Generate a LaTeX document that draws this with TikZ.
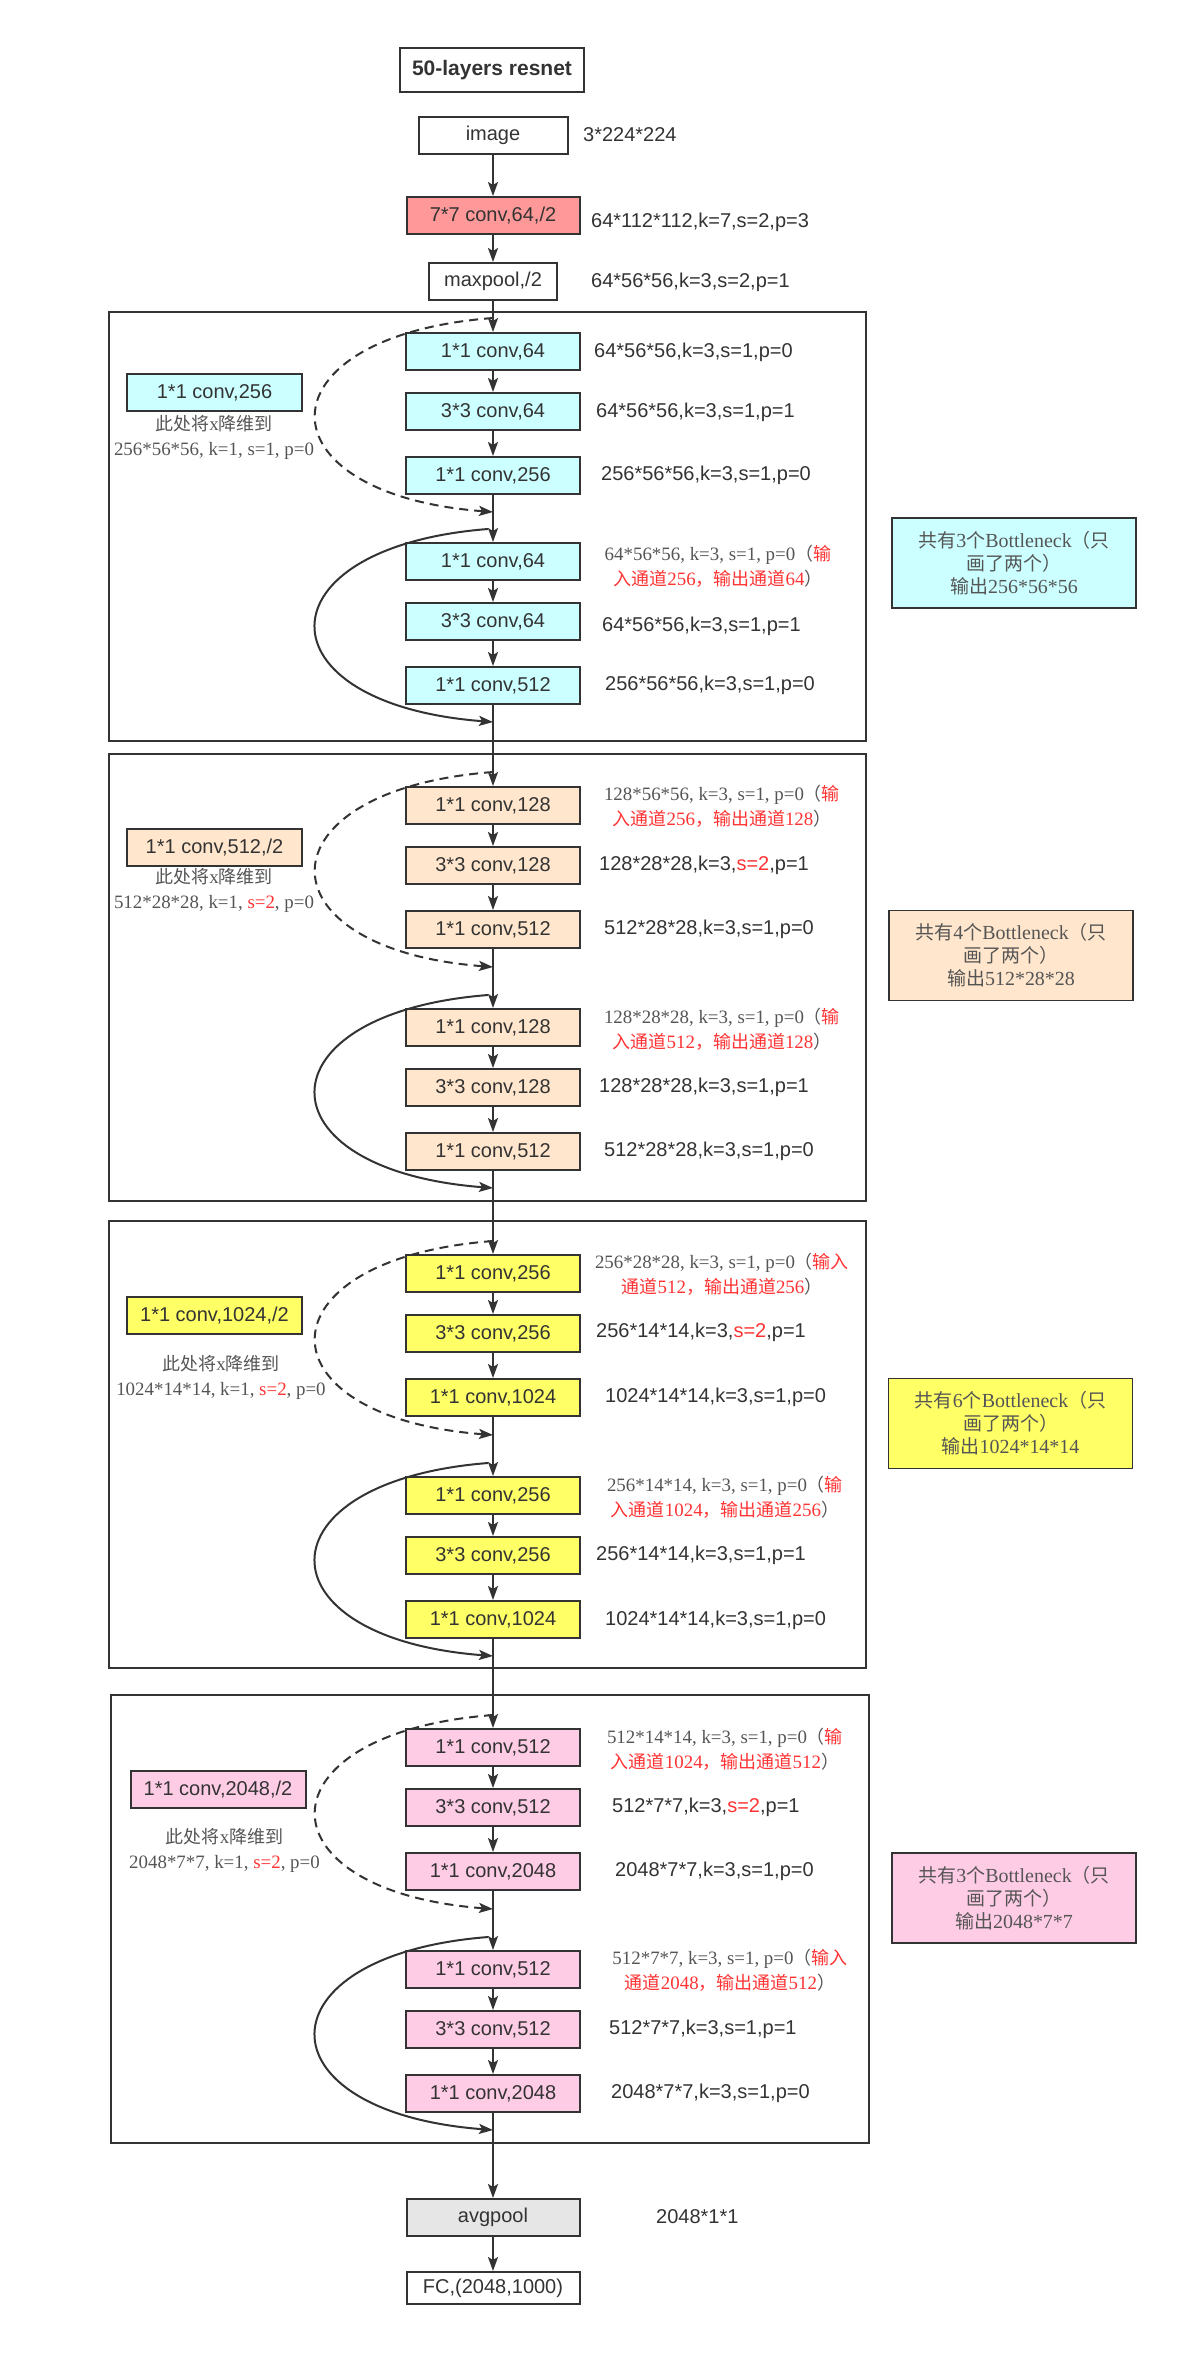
\documentclass[tikz,border=0pt]{standalone}
\usepackage{fontspec}
\setmainfont{Liberation Serif}
\setsansfont{Liberation Sans}
\newfontfamily\cjk{Noto Sans CJK SC}
\newfontfamily\notelatin[Scale=1.05]{Liberation Serif}
\usetikzlibrary{arrows.meta}
\definecolor{linegray}{HTML}{333333}
\definecolor{notegray}{HTML}{555555}
\definecolor{notered}{HTML}{FF3333}
\definecolor{stageA}{HTML}{CCFFFF}
\definecolor{stageB}{HTML}{FFE6CC}
\definecolor{stageC}{HTML}{FFFF66}
\definecolor{stageD}{HTML}{FFCCE6}
\definecolor{convred}{HTML}{FF9999}
\definecolor{poolgray}{HTML}{E6E6E6}
\newcommand\zhtxt[1]{{\cjk #1}}
\newcommand\redtxt[1]{\textcolor{notered}{#1}}
\tikzset{
  convbox/.style={draw=linegray, line width=2pt, minimum width=174pt, minimum height=37pt, inner sep=0pt, text=linegray, font=\sffamily\fontsize{20}{24}\selectfont},
  sidebox/.style={convbox, minimum width=175pt},
  dims/.style={anchor=west, inner sep=0pt, text=linegray, font=\sffamily\fontsize{20}{24}\selectfont},
  note/.style={align=center, inner sep=0pt, text=notegray, font=\notelatin\fontsize{18}{25}\selectfont},
  infobox/.style={draw=linegray, line width=1.5pt, minimum width=244pt, minimum height=90pt, align=center, inner sep=0pt, text=notegray, font=\notelatin\fontsize{19}{23}\selectfont},
  flow/.style={draw=linegray, line width=2pt, -{Stealth[length=14pt,width=10pt,inset=3pt]}},
  stagebox/.style={draw=linegray, line width=2pt},
}
\begin{document}
\begin{tikzpicture}[x=1pt,y=-1pt]
  \useasboundingbox (0,0) rectangle (1196,2366);
  % frames of the four stages
  \draw[stagebox] (109,312) rectangle (866,741);
  \draw[stagebox] (109,754) rectangle (866,1201);
  \draw[stagebox] (109,1221) rectangle (866,1668);
  \draw[stagebox] (111,1695) rectangle (869,2143);

  % head
  \node[convbox, font=\sffamily\bfseries\fontsize{21}{25}\selectfont, minimum width=184pt, minimum height=44pt] (title) at (492,70) {50-layers resnet};
  \node[convbox, minimum width=149pt] (img) at (493,135.5) {image};
  \node[convbox, minimum width=173pt, fill=convred] (conv7) at (493,215.5) {7*7 conv,64,/2};
  \node[convbox, minimum width=128pt] (mpool) at (493,281.5) {maxpool,/2};
  \node[dims] (limg) at (583,135) {3*224*224};
  \node[dims] (lconv7) at (591,222) {64*112*112,k=7,s=2,p=3};
  \node[dims] (lmpool) at (591,282) {64*56*56,k=3,s=2,p=1};

  % stage 1
  \foreach \n/\y/\t in {a1/351.5/{1*1 conv,64}, a2/411.5/{3*3 conv,64}, a3/475.5/{1*1 conv,256}, a4/561.5/{1*1 conv,64}, a5/621.5/{3*3 conv,64}, a6/685.5/{1*1 conv,512}}
    \node[convbox, fill=stageA] (\n) at (493,\y) {\t};
  \foreach \n/\x/\y/\t in {la1/594/352/{64*56*56,k=3,s=1,p=0}, la2/596/412/{64*56*56,k=3,s=1,p=1}, la3/601/475/{256*56*56,k=3,s=1,p=0}, la5/602/626/{64*56*56,k=3,s=1,p=1}, la6/605/685/{256*56*56,k=3,s=1,p=0}}
    \node[dims] (\n) at (\x,\y) {\t};
  \node[note] (la4) at (718,566) {64*56*56, k=3, s=1, p=0\zhtxt{（}\redtxt{\zhtxt{输}}\\\redtxt{\zhtxt{入通道}256\zhtxt{，输出通道}64}\zhtxt{）}};
  \node[sidebox, fill=stageA] (sa) at (214.5,392.5) {1*1 conv,256};
  \node[note] (na) at (214,437) {\zhtxt{此处将}x\zhtxt{降维到}\\256*56*56, k=1, s=1, p=0};
  \node[infobox, fill=stageA] (ia) at (1014,563) {\zhtxt{共有}3\zhtxt{个}Bottleneck\zhtxt{（只}\\\zhtxt{画了两个）}\\\zhtxt{输出}256*56*56};

  % stage 2
  \foreach \n/\y/\t in {b1/805.5/{1*1 conv,128}, b2/865.5/{3*3 conv,128}, b3/929.5/{1*1 conv,512}, b4/1027.5/{1*1 conv,128}, b5/1087.5/{3*3 conv,128}, b6/1151.5/{1*1 conv,512}}
    \node[convbox, fill=stageB] (\n) at (493,\y) {\t};
  \foreach \n/\x/\y/\t in {lb2/599/865/{128*28*28,k=3,\redtxt{s=2},p=1}, lb3/604/929/{512*28*28,k=3,s=1,p=0}, lb5/599/1087/{128*28*28,k=3,s=1,p=1}, lb6/604/1151/{512*28*28,k=3,s=1,p=0}}
    \node[dims] (\n) at (\x,\y) {\t};
  \node[note] (lb1) at (722,806.5) {128*56*56, k=3, s=1, p=0\zhtxt{（}\redtxt{\zhtxt{输}}\\\redtxt{\zhtxt{入通道}256\zhtxt{，输出通道}128}\zhtxt{）}};
  \node[note] (lb4) at (722,1029.5) {128*28*28, k=3, s=1, p=0\zhtxt{（}\redtxt{\zhtxt{输}}\\\redtxt{\zhtxt{入通道}512\zhtxt{，输出通道}128}\zhtxt{）}};
  \node[sidebox, fill=stageB] (sb) at (214.5,847.5) {1*1 conv,512,/2};
  \node[note] (nb) at (214,890.5) {\zhtxt{此处将}x\zhtxt{降维到}\\512*28*28, k=1, \redtxt{s=2}, p=0};
  \node[infobox, fill=stageB] (ib) at (1011,955.5) {\zhtxt{共有}4\zhtxt{个}Bottleneck\zhtxt{（只}\\\zhtxt{画了两个）}\\\zhtxt{输出}512*28*28};

  % stage 3
  \foreach \n/\y/\t in {c1/1273.5/{1*1 conv,256}, c2/1333.5/{3*3 conv,256}, c3/1397.5/{1*1 conv,1024}, c4/1495.5/{1*1 conv,256}, c5/1555.5/{3*3 conv,256}, c6/1619.5/{1*1 conv,1024}}
    \node[convbox, fill=stageC] (\n) at (493,\y) {\t};
  \foreach \n/\x/\y/\t in {lc2/596/1332/{256*14*14,k=3,\redtxt{s=2},p=1}, lc3/605/1397/{1024*14*14,k=3,s=1,p=0}, lc5/596/1555/{256*14*14,k=3,s=1,p=1}, lc6/605/1620/{1024*14*14,k=3,s=1,p=0}}
    \node[dims] (\n) at (\x,\y) {\t};
  \node[note] (lc1) at (722,1274.5) {256*28*28, k=3, s=1, p=0\zhtxt{（}\redtxt{\zhtxt{输入}}\\\redtxt{\zhtxt{通道}512\zhtxt{，输出通道}256}\zhtxt{）}};
  \node[note] (lc4) at (725,1497) {256*14*14, k=3, s=1, p=0\zhtxt{（}\redtxt{\zhtxt{输}}\\\redtxt{\zhtxt{入通道}1024\zhtxt{，输出通道}256}\zhtxt{）}};
  \node[sidebox, fill=stageC] (sc) at (214.5,1315.5) {1*1 conv,1024,/2};
  \node[note] (nc) at (221,1377) {\zhtxt{此处将}x\zhtxt{降维到}\\1024*14*14, k=1, \redtxt{s=2}, p=0};
  \node[infobox, fill=stageC] (ic) at (1010.5,1423.5) {\zhtxt{共有}6\zhtxt{个}Bottleneck\zhtxt{（只}\\\zhtxt{画了两个）}\\\zhtxt{输出}1024*14*14};

  % stage 4
  \foreach \n/\y/\t in {d1/1747.5/{1*1 conv,512}, d2/1807.5/{3*3 conv,512}, d3/1871.5/{1*1 conv,2048}, d4/1969.5/{1*1 conv,512}, d5/2029.5/{3*3 conv,512}, d6/2093.5/{1*1 conv,2048}}
    \node[convbox, fill=stageD] (\n) at (493,\y) {\t};
  \foreach \n/\x/\y/\t in {ld2/612/1807/{512*7*7,k=3,\redtxt{s=2},p=1}, ld3/615/1871/{2048*7*7,k=3,s=1,p=0}, ld5/609/2029/{512*7*7,k=3,s=1,p=1}, ld6/611/2093/{2048*7*7,k=3,s=1,p=0}}
    \node[dims] (\n) at (\x,\y) {\t};
  \node[note] (ld1) at (725,1749.5) {512*14*14, k=3, s=1, p=0\zhtxt{（}\redtxt{\zhtxt{输}}\\\redtxt{\zhtxt{入通道}1024\zhtxt{，输出通道}512}\zhtxt{）}};
  \node[note] (ld4) at (730,1970.5) {512*7*7, k=3, s=1, p=0\zhtxt{（}\redtxt{\zhtxt{输入}}\\\redtxt{\zhtxt{通道}2048\zhtxt{，输出通道}512}\zhtxt{）}};
  \node[sidebox, fill=stageD] (sd) at (218,1789.5) {1*1 conv,2048,/2};
  \node[note] (nd) at (224.5,1850.5) {\zhtxt{此处将}x\zhtxt{降维到}\\2048*7*7, k=1, \redtxt{s=2}, p=0};
  \node[infobox, fill=stageD] (id) at (1014,1898) {\zhtxt{共有}3\zhtxt{个}Bottleneck\zhtxt{（只}\\\zhtxt{画了两个）}\\\zhtxt{输出}2048*7*7};

  % tail
  \node[convbox, minimum width=173pt, fill=poolgray] (apool) at (493,2217.5) {avgpool};
  \node[convbox, minimum width=173pt, minimum height=32pt] (fc) at (493,2288) {FC,(2048,1000)};
  \node[dims] (lapool) at (656,2217) {2048*1*1};

  % main flow
  \foreach \u/\v in {img/conv7, conv7/mpool, mpool/a1, a1/a2, a2/a3, a3/a4, a4/a5, a5/a6, a6/b1, b1/b2, b2/b3, b3/b4, b4/b5, b5/b6, b6/c1, c1/c2, c2/c3, c3/c4, c4/c5, c5/c6, c6/d1, d1/d2, d2/d3, d3/d4, d4/d5, d5/d6, d6/apool, apool/fc}
    \draw[flow] (\u) -- (\v);

  % shortcuts
  \foreach \s/\ya/\yb/\yc/\yd in {a/318/512/529/722, b/772/967/995/1188, c/1241/1435/1463/1656, d/1715/1909/1937/2130} {
    \coordinate (k\s1) at (493,\ya);
    \coordinate (k\s2) at (493,\yb);
    \coordinate (k\s3) at (488,\yc);
    \coordinate (k\s4) at (493,\yd);
    \draw[flow, dash pattern=on 9pt off 6pt] (k\s1) .. controls +(-236,18) and +(-236,-18) .. (k\s2);
    \draw[flow] (k\s3) .. controls +(-230,18) and +(-236,-18) .. (k\s4);
  }
\end{tikzpicture}
\end{document}
